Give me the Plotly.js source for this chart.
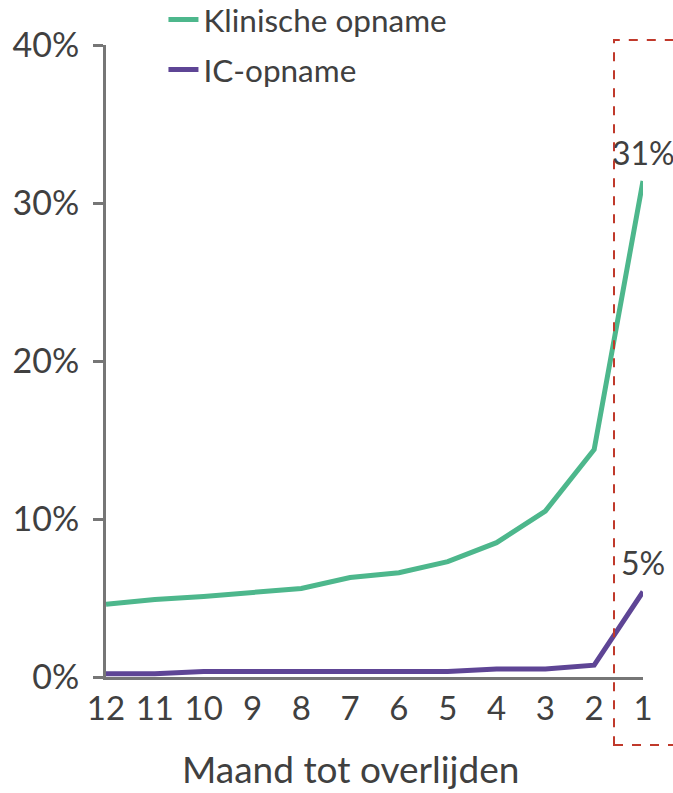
<!DOCTYPE html>
<html>
<head>
<meta charset="utf-8">
<script src="https://cdn.plot.ly/plotly-3.0.1.min.js"></script>
<style>html,body{margin:0;padding:0;background:#fff;}#chart{width:673px;height:793px;}</style>
</head>
<body>
<div id="chart"></div>
<script>
const months = ["12","11","10","9","8","7","6","5","4","3","2","1"];
const klinisch = [4.6, 4.9, 5.1, 5.35, 5.6, 6.3, 6.6, 7.3, 8.5, 10.5, 14.4, 31.4];
const ic = [0.2, 0.2, 0.35, 0.35, 0.35, 0.35, 0.35, 0.35, 0.5, 0.5, 0.75, 5.4];
const seriesNames = ["Klinische opname", "IC-opname"];
const endLabels = ["31%", "5%"];
const xTitle = "Maand tot overlijden";

const textColor = "#404040";
const lastIdx = months.length - 1;
const traces = [
  {x: months, y: klinisch, name: seriesNames[0], type: "scatter", mode: "lines", legendgroup: "a",
   line: {color: "#4DB78C", width: 5}},
  {x: months, y: ic, name: seriesNames[1], type: "scatter", mode: "lines", legendgroup: "b",
   line: {color: "#5E4595", width: 5}}
];
const layout = {
  width: 673, height: 793,
  margin: {l: 106, r: 30, t: 45, b: 116, autoexpand: false},
  paper_bgcolor: "#fff", plot_bgcolor: "#fff",
  font: {family: "Lato, sans-serif", color: textColor, size: 34},
  showlegend: true,
  legend: {x: 0.107, xanchor: "left", y: 1.083, yanchor: "top", orientation: "v", tracegroupgap: 6,
    font: {size: 31.5, color: textColor}, bgcolor: "rgba(0,0,0,0)"},
  xaxis: {type: "category", range: [0, 11], showline: true, linecolor: "#767676", linewidth: 3,
    ticks: "", showgrid: false, zeroline: false, tickfont: {size: 33, color: textColor}},
  yaxis: {range: [0, 40], dtick: 10, ticksuffix: "%", showline: true, linecolor: "#767676", linewidth: 3,
    ticks: "outside", ticklen: 10, tickwidth: 3, tickcolor: "#767676", showgrid: false, zeroline: false,
    ticklabelstandoff: 7, tickfont: {size: 34, color: textColor}},
  shapes: [{type: "rect", xref: "paper", yref: "paper", x0: 0.946, x1: 1.2, y0: -0.1076, y1: 1.0079,
    line: {color: "#C0392B", width: 2, dash: "dash"}, fillcolor: "rgba(0,0,0,0)"}],
  annotations: [
    {x: lastIdx, y: klinisch[lastIdx], text: endLabels[0], showarrow: false, yshift: 28, font: {size: 32, color: textColor}},
    {x: lastIdx, y: ic[lastIdx], text: endLabels[1], showarrow: false, yshift: 29, font: {size: 32, color: textColor}},
    {xref: "paper", yref: "paper", x: 0.455, y: -0.145, text: xTitle, showarrow: false,
     xanchor: "center", yanchor: "middle", font: {size: 37, color: textColor}}
  ]
};
Plotly.newPlot("chart", traces, layout, {displayModeBar: false, staticPlot: true});
</script>
</body>
</html>
